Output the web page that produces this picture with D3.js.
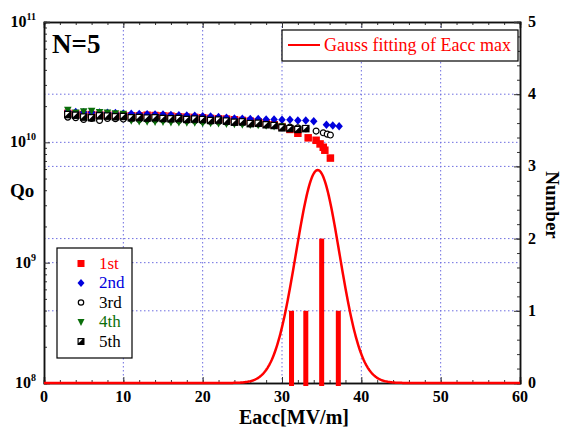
<!DOCTYPE html>
<html lang="en">
<head>
<meta charset="utf-8">
<title>Qo vs Eacc, N=5</title>
<style>
  body { margin: 0; background: #fff; }
  text { font-family: "Liberation Serif", "Times New Roman", serif; }
  .tick-label { font-size: 16px; font-weight: bold; }
  .grid { stroke: #6d6de0; stroke-width: 1; stroke-dasharray: 1.5,2.5; }
</style>
</head>
<body>
<script src="https://cdn.jsdelivr.net/npm/d3@7"></script>
<script>
// ---- data ----
var xTicks = [0, 10, 20, 30, 40, 50, 60];
var qDecades = [8, 9, 10, 11];
var nTicks = [0, 1, 2, 3, 4, 5];

// Qo values in units of 1e10
var s1x = [3,4,5,6,7,8,9,10,11,12,13,14,15,16,17,18,19,20,21,22,23,24,25,26,27,28,29,30,31,32,33.3,34.3,34.8,35.2,35.4,36.1];
var s1q = [1.74,1.72,1.70,1.70,1.69,1.68,1.68,1.67,1.66,1.66,1.68,1.67,1.66,1.65,1.63,1.62,1.61,1.60,1.58,1.57,1.56,1.54,1.52,1.50,1.48,1.45,1.40,1.35,1.28,1.19,1.09,1.04,0.97,0.91,0.86,0.74];

var s2x = [3,4,5,6,7,8,9,10,11,12,13,14,15,16,17,18,19,20,21,22,23,24,25,26,27,28,29,30,31,32,33,34,35.6,36.4,37.2];
var s2q = [1.80,1.79,1.78,1.77,1.77,1.76,1.75,1.74,1.73,1.72,1.71,1.70,1.70,1.69,1.68,1.67,1.66,1.65,1.64,1.62,1.60,1.58,1.57,1.56,1.56,1.55,1.55,1.54,1.54,1.52,1.52,1.50,1.40,1.38,1.36];

var s3x = [3,4,5,6,7,8,9,10,11,12,13,14,15,16,17,18,19,20,21,22,23,24,25,26,27,28,29,30,31,32,33,34.3,35.2,35.7,36.1];
var s3q = [1.62,1.60,1.55,1.58,1.52,1.58,1.57,1.56,1.56,1.55,1.55,1.54,1.54,1.53,1.52,1.52,1.51,1.50,1.49,1.48,1.47,1.46,1.45,1.43,1.42,1.40,1.38,1.36,1.34,1.32,1.30,1.24,1.20,1.17,1.15];

var s4x = [3,4,5,6,7,8,9,10,11,12,13,14,15,16,17,18,19,20,21,22,23,24,25,26,27,28,29,30];
var s4q = [1.86,1.76,1.80,1.82,1.78,1.76,1.74,1.72,1.52,1.50,1.49,1.48,1.48,1.47,1.47,1.46,1.46,1.45,1.45,1.44,1.43,1.42,1.41,1.40,1.39,1.38,1.36,1.35];

var s5x = [3,4,5,6,7,8,9,10,11,12,13,14,15,16,17,18,19,20,21,22,23,24,25,26,27,28,29,30,31,32,33];
var s5q = [1.70,1.68,1.62,1.60,1.66,1.65,1.63,1.64,1.60,1.61,1.59,1.60,1.58,1.57,1.58,1.55,1.56,1.55,1.52,1.53,1.50,1.47,1.48,1.43,1.44,1.40,1.38,1.32,1.30,1.28,1.30];

// histogram of Eacc max
var histX = [31.2, 33, 35, 37.1];
var histN = [1, 1, 2, 1];

// gauss fit parameters (amplitude, centre, sigma)
var gaussA = 2.95, gaussMu = 34.5, gaussSigma = 2.75;

var seriesNames = ["1st", "2nd", "3rd", "4th", "5th"];
var seriesColors = ["#ff0000", "#0000dd", "#000000", "#0a6e0a", "#000000"];

// ---- layout ----
var W = 565, H = 427;
var margin = {top: 22, right: 45, bottom: 44, left: 44},
    width = W - margin.left - margin.right,
    height = H - margin.top - margin.bottom;

var x = d3.scaleLinear().domain([0, 60]).range([0, width]);
var y = d3.scaleLog().domain([1e8, 1e11]).range([height, 0]);
var yN = d3.scaleLinear().domain([0, 5]).range([height, 0]);

var svg = d3.select("body").append("svg")
    .attr("width", W).attr("height", H);
var g = svg.append("g")
    .attr("transform", "translate(" + margin.left + "," + margin.top + ")");

// grid
g.selectAll(".gx").data([10, 20, 30, 40, 50]).enter().append("line")
    .attr("class", "grid")
    .attr("x1", function(d) { return x(d); }).attr("x2", function(d) { return x(d); })
    .attr("y1", 0).attr("y2", height);
g.selectAll(".gy").data([1e9, 1e10]).enter().append("line")
    .attr("class", "grid")
    .attr("x1", 0).attr("x2", width)
    .attr("y1", function(d) { return y(d); }).attr("y2", function(d) { return y(d); });
g.selectAll(".gn").data([1, 2, 3, 4]).enter().append("line")
    .attr("class", "grid")
    .attr("x1", 0).attr("x2", width)
    .attr("y1", function(d) { return yN(d); }).attr("y2", function(d) { return yN(d); });

// axes with inward ticks
var minorX = d3.range(0, 61, 2);
var axBottom = g.append("g").attr("transform", "translate(0," + height + ")")
    .call(d3.axisTop(x).tickValues(minorX).tickSize(3).tickFormat(""));
axBottom.append("g").call(d3.axisTop(x).tickValues(xTicks).tickSize(6).tickFormat(""));
var axTop = g.append("g")
    .call(d3.axisBottom(x).tickValues(minorX).tickSize(3).tickFormat(""));
axTop.append("g").call(d3.axisBottom(x).tickValues(xTicks).tickSize(6).tickFormat(""));

var minorQ = [];
[8, 9, 10].forEach(function(e) {
    for (var k = 2; k <= 9; k++) minorQ.push(k * Math.pow(10, e));
});
var axLeft = g.append("g")
    .call(d3.axisRight(y).tickValues(minorQ).tickSize(3).tickFormat(""));
axLeft.append("g").call(d3.axisRight(y).tickValues(qDecades.map(function(e) { return Math.pow(10, e); })).tickSize(6).tickFormat(""));

var minorN = d3.range(0, 5.01, 0.2);
var axRight = g.append("g").attr("transform", "translate(" + width + ",0)")
    .call(d3.axisLeft(yN).tickValues(minorN).tickSize(3).tickFormat(""));
axRight.append("g").call(d3.axisLeft(yN).tickValues(nTicks).tickSize(6).tickFormat(""));

g.selectAll(".domain").attr("stroke", "#111").attr("stroke-width", 1.5);
g.selectAll(".tick line").attr("stroke", "#333");

// tick labels
g.selectAll(".xl").data(xTicks).enter().append("text")
    .attr("class", "tick-label")
    .attr("x", function(d) { return x(d); })
    .attr("y", height + 19)
    .attr("text-anchor", "middle")
    .text(function(d) { return d; });

var ql = g.selectAll(".ql").data(qDecades).enter().append("text")
    .attr("class", "tick-label")
    .attr("x", -8)
    .attr("y", function(d) { return y(Math.pow(10, d)) + 5; })
    .attr("text-anchor", "end");
ql.append("tspan").text("10");
ql.append("tspan").attr("dy", -7).style("font-size", "10px").text(function(d) { return d; });

g.selectAll(".nl").data(nTicks).enter().append("text")
    .attr("class", "tick-label")
    .attr("x", width + 8)
    .attr("y", function(d) { return yN(d) + 5; })
    .text(function(d) { return d; });

// axis titles
svg.append("text").attr("x", 294).attr("y", 424).attr("text-anchor", "middle")
    .style("font-size", "20px").style("font-weight", "bold").text("Eacc[MV/m]");
svg.append("text").attr("x", 10).attr("y", 197)
    .style("font-size", "19px").style("font-weight", "bold").text("Qo");
svg.append("text").attr("transform", "translate(546,205) rotate(90)")
    .attr("text-anchor", "middle")
    .style("font-size", "19px").style("font-weight", "bold").text("Number");

svg.append("text").attr("x", 52).attr("y", 53)
    .style("font-size", "27px").style("font-weight", "bold").text("N=5");

// histogram bars
g.selectAll(".bar").data(histX).enter().append("rect")
    .attr("fill", "#ff0000")
    .attr("x", function(d) { return x(d) - 2.5; })
    .attr("width", 5)
    .attr("y", function(d, i) { return yN(histN[i]); })
    .attr("height", function(d, i) { return height - yN(histN[i]) + 3; });

// gauss fit curve
var gx = d3.range(0, 60.01, 0.1);
var line = d3.line()
    .x(function(d) { return x(d); })
    .y(function(d) {
        var z = (d - gaussMu) / gaussSigma;
        return yN(gaussA * Math.exp(-0.5 * z * z));
    });
g.append("path").datum(gx)
    .attr("fill", "none").attr("stroke", "#ff0000").attr("stroke-width", 2.5)
    .attr("d", line);

// marker drawing
function drawMarker(sel, kind, size) {
    var h = size / 2;
    if (kind === 0) {
        sel.append("rect").attr("x", -h).attr("y", -h).attr("width", size).attr("height", size)
            .attr("fill", "#ff0000");
    } else if (kind === 1) {
        sel.append("path").attr("d", "M0," + (-h - 0.5) + "L" + (h) + ",0L0," + (h + 0.5) + "L" + (-h) + ",0Z")
            .attr("fill", "#0000dd");
    } else if (kind === 2) {
        sel.append("circle").attr("r", h - 0.8).attr("fill", "#fff")
            .attr("stroke", "#000").attr("stroke-width", 1.2);
    } else if (kind === 3) {
        sel.append("path").attr("d", "M" + (-h) + "," + (-h + 0.5) + "L" + h + "," + (-h + 0.5) + "L0," + (h + 0.5) + "Z")
            .attr("fill", "#0a6e0a");
    } else {
        sel.append("rect").attr("x", -h).attr("y", -h).attr("width", size).attr("height", size)
            .attr("fill", "#000");
        sel.append("path").attr("d", "M" + (-h + 1.2) + "," + (-h + 1.2) + "L" + (h - 2) + "," + (-h + 1.2) + "L" + (-h + 1.2) + "," + (h - 2) + "Z")
            .attr("fill", "#fff");
    }
}

var allX = [s1x, s2x, s3x, s4x, s5x];
var allQ = [s1q, s2q, s3q, s4q, s5q];
allX.forEach(function(xs, k) {
    var pts = xs.map(function(v, i) { return [v, allQ[k][i] * 1e10]; });
    g.append("g").selectAll("g").data(pts).enter().append("g")
        .attr("transform", function(d) { return "translate(" + x(d[0]) + "," + y(d[1]) + ")"; })
        .each(function() { drawMarker(d3.select(this), k, 7.5); });
});

// series legend
var leg = svg.append("g");
leg.append("rect").attr("x", 57).attr("y", 248).attr("width", 75).attr("height", 110)
    .attr("fill", "#fff").attr("stroke", "#000").attr("stroke-width", 1.2);
seriesNames.forEach(function(name, k) {
    var yy = 263.5 + k * 19.5;
    var m = leg.append("g").attr("transform", "translate(81," + yy + ")");
    drawMarker(m, k, 7);
    leg.append("text").attr("x", 99).attr("y", yy + 5)
        .attr("fill", seriesColors[k]).style("font-size", "17px").text(name);
});

// gauss legend
var leg2 = svg.append("g");
leg2.append("rect").attr("x", 282).attr("y", 30).attr("width", 236).attr("height", 31)
    .attr("fill", "#fff").attr("stroke", "#000").attr("stroke-width", 1.2);
leg2.append("line").attr("x1", 288).attr("x2", 320).attr("y1", 45).attr("y2", 45)
    .attr("stroke", "#ff0000").attr("stroke-width", 2);
leg2.append("text").attr("x", 324).attr("y", 51).attr("fill", "#ff0000")
    .style("font-size", "18px").text("Gauss fitting of Eacc max");
</script>
</body>
</html>
